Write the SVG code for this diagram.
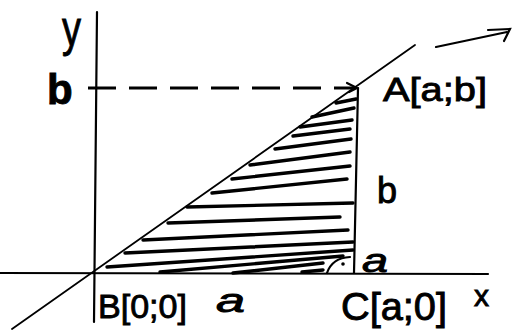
<svg xmlns="http://www.w3.org/2000/svg" width="513" height="330" viewBox="0 0 513 330">
<style>
  .ax{stroke:#000;stroke-width:2.2;fill:none;stroke-linecap:round}
  .thin{stroke:#000;stroke-width:1.8;fill:none;stroke-linecap:round}
  .hatch{stroke:#000;stroke-width:3.4;fill:none;stroke-linecap:round}
  .dash{stroke:#000;stroke-width:3;fill:none;stroke-dasharray:28 13}
  text{font-family:"Liberation Sans","DejaVu Sans",sans-serif;fill:#000;stroke:#000;stroke-width:0.9}
</style>
<rect width="513" height="330" fill="#fff"/>
<g id="connectors">
  <line class="ax" x1="97" y1="12" x2="94" y2="322"/>
  <line class="ax" x1="0" y1="273" x2="488" y2="274"/>
  <line class="thin" x1="12" y1="329" x2="415" y2="45"/>
  <path class="ax" d="M436 47 L507 32 M488 30 L510 29 L504 41" stroke-width="2.6"/>
  <line class="dash" x1="88" y1="88" x2="355" y2="88"/>
  <path class="ax" d="M347 83 L357 88 L349 92"/>
  <line class="ax" x1="358" y1="88" x2="354" y2="273"/>
</g>
<g id="hatching">
  <path class="hatch" d="M336 103 L356 99 M312 117 L354 108 M300 127 L352 120 M293 136 L350 129 M275 149 L351 139 M250 165 L350 152 M232 179 L350 166 M212 193 L347 179 M187 207 L353 203 M168 223 L340 217 M143 240 L348 230 M125 253 L353 242 M107 267 L353 250 M160 272 L343 256 M233 273 L323 263 M302 272 L323 270"/>
</g>
<g id="right-angle">
  <path class="ax" d="M327 273 Q332 258 350 257" stroke-width="2.6"/>
  <circle cx="343" cy="264" r="1.8" fill="#000"/>
</g>
<g id="label-y"><text x="62" y="46" font-size="50" textLength="19" lengthAdjust="spacingAndGlyphs">y</text></g>
<g id="label-b-axis"><text x="47" y="104" font-size="42" font-weight="bold" stroke-width="2.5">b</text></g>
<g id="point-A"><text x="383" y="101" font-size="34" textLength="104" lengthAdjust="spacingAndGlyphs">A[a;b]</text></g>
<g id="label-b-side"><text x="377" y="203" font-size="36">b</text></g>
<g id="label-a-angle"><text x="362" y="272" font-size="34" font-style="italic" textLength="26" lengthAdjust="spacingAndGlyphs">a</text></g>
<g id="point-B"><text x="98" y="318" font-size="34" textLength="89" lengthAdjust="spacingAndGlyphs">B[0;0]</text></g>
<g id="label-a-base"><text x="216" y="312" font-size="34" font-style="italic" textLength="29" lengthAdjust="spacingAndGlyphs">a</text></g>
<g id="point-C"><text x="341" y="320" font-size="38" textLength="106" lengthAdjust="spacingAndGlyphs">C[a;0]</text></g>
<g id="label-x"><text x="474" y="306" font-size="30">x</text></g>
</svg>
